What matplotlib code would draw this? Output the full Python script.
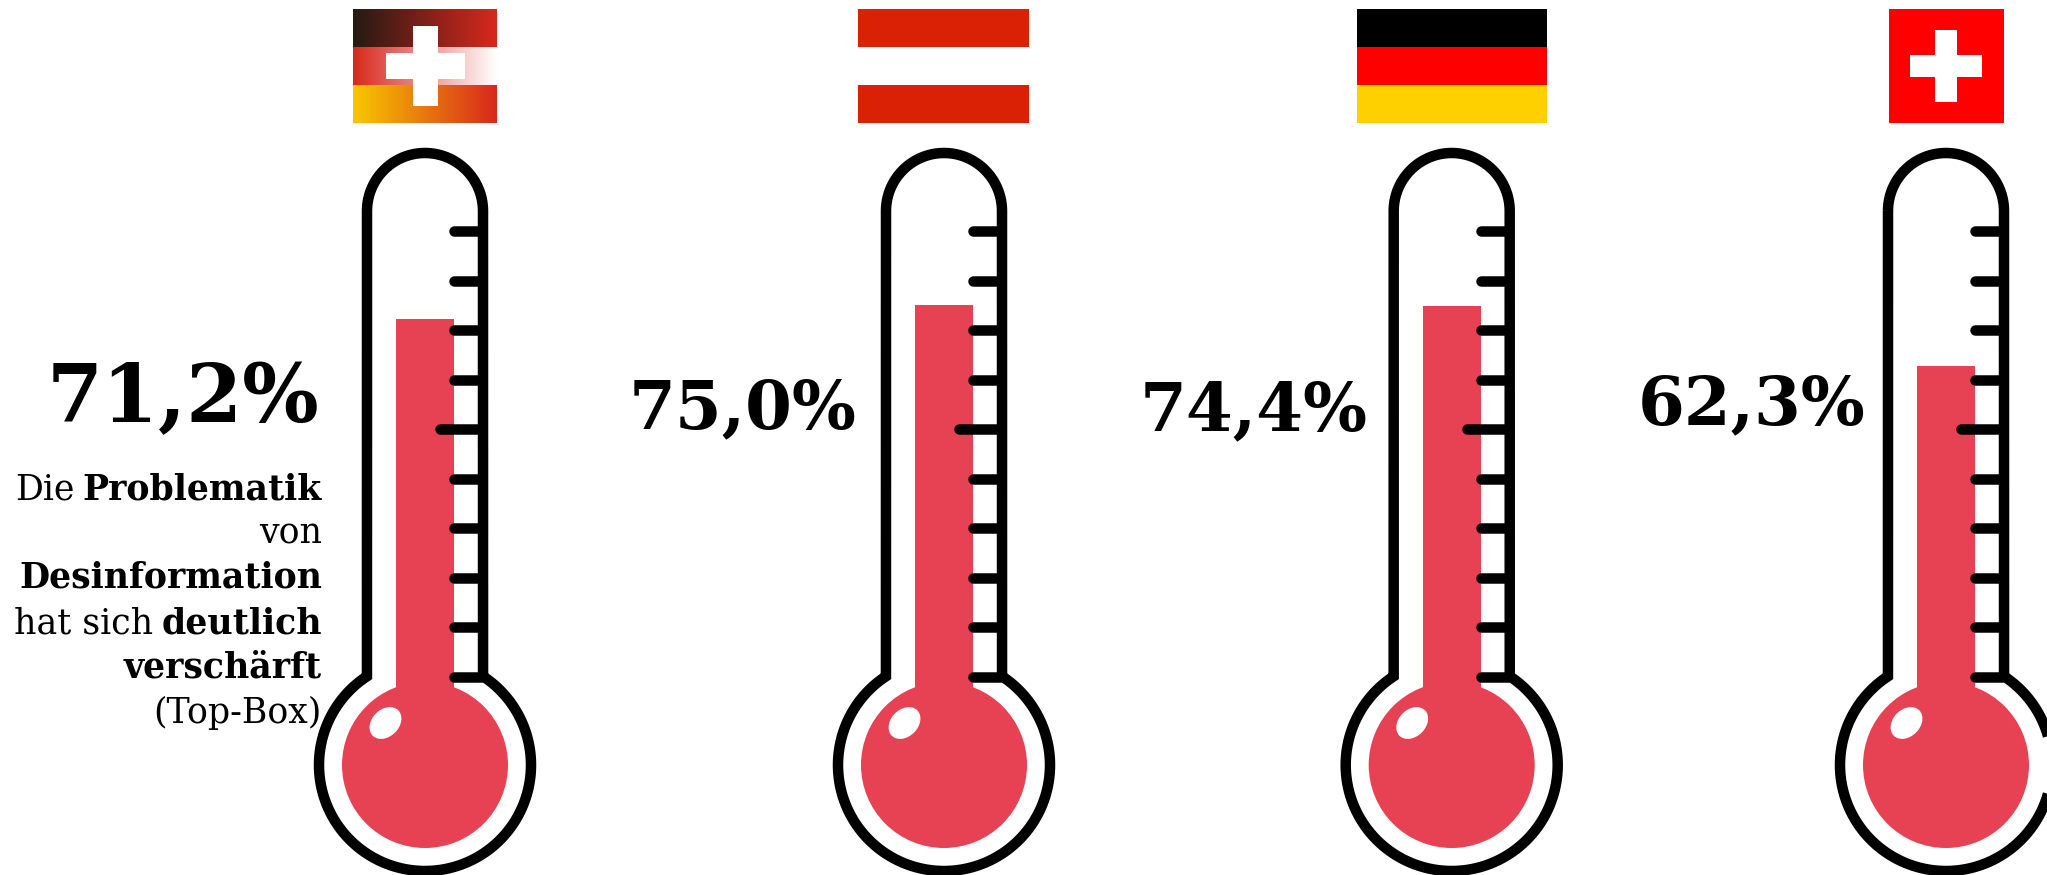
import matplotlib
matplotlib.use("Agg")
import matplotlib.pyplot as plt
from matplotlib.patches import Ellipse, Circle, Rectangle, Polygon
import numpy as np

W, H = 2047, 875

# Werte aus dem Bild
values = [71.2, 75.0, 74.4, 62.3]
# Fuellstand auf der Skala des Thermometers (ein Strich = 10)
fill_levels = [72.2, 75.1, 74.9, 62.8]
label_sizes = [58, 48.5, 48.5, 48.5]
label_right = [319, 857, 1368, 1866]
label_base = [422, 428, 430, 424]

centres = [425, 944, 1451.7, 1946]
scale_ticks = [0, 10, 20, 30, 40, 50, 60, 70, 80, 90]

text_lines = [
    [("Die", False), ("Problematik", True)],
    [("von", False)],
    [("Desinformation", True)],
    [("hat sich", False), ("deutlich", True)],
    [("verschärft", True)],
    [("(Top-Box)", False)],
]
text_base = [499, 544, 588, 633, 678, 723]

RED = "#E64254"
FONT = "DejaVu Serif"
LW = 10.5 * 72 / 100

# Skala: 0 liegt beim untersten Strich, 90 beim obersten
Y0 = 677
STEP = 4.956


def level_to_y(level):
    return Y0 - level * STEP


def gradient(c0, c1):
    ramp = np.linspace(0, 1, 256).reshape(1, -1, 1)
    c0 = np.array(matplotlib.colors.to_rgb(c0))
    c1 = np.array(matplotlib.colors.to_rgb(c1))
    return c0 + ramp * (c1 - c0)


def rect(x0, x1, y0, y1, color):
    ax.add_patch(Rectangle((x0, y0), x1 - x0, y1 - y0, facecolor=color, edgecolor="none", zorder=2))


def draw_thermometer(cx):
    ax.add_patch(Circle((cx, 765), 83, color=RED, linewidth=0))
    ax.add_patch(Ellipse((cx - 39.5, 723), 36, 27, angle=-45, color="white", linewidth=0))

    # Umriss: oberer Bogen, rechte Seite, Kugel unten herum, linke Seite
    top = np.linspace(np.pi, 2 * np.pi, 80)
    start = np.arcsin(88.7 / 106)
    ang = np.linspace(-start, np.pi + start, 200)
    xs = np.concatenate([cx + 58 * np.cos(top), cx + 106 * np.cos(ang)])
    ys = np.concatenate([211 + 58 * np.sin(top), 765 + 106 * np.sin(ang)])
    ax.add_patch(Polygon(np.column_stack([xs, ys]), closed=True, fill=False, edgecolor="black",
                         linewidth=LW, joinstyle="miter"))

    # runde Kappe rechts bleibt innerhalb der Roehre
    for t in scale_ticks:
        y = level_to_y(t)
        x0 = cx + (15 if t == 50 else 29)
        ax.plot([x0, cx + 56], [y, y], color="black", lw=LW, solid_capstyle="round")


fig = plt.figure(figsize=(W / 100, H / 100), dpi=100, facecolor="white")

# untere Achse fuer die roten Saeulen
ax_fill = fig.add_axes([0, 0, 1, 1], zorder=1)
ax_fill.set_xlim(0, W)
ax_fill.set_ylim((Y0 - H) / STEP, Y0 / STEP)
ax_fill.axis("off")
ax_fill.bar(centres, np.array(fill_levels) + 5, width=58, bottom=-5, color=RED, linewidth=0)

ax = fig.add_axes([0, 0, 1, 1], zorder=2)
ax.axis("off")
ax.patch.set_alpha(0)

for cx in centres:
    draw_thermometer(cx)

# Flaggen
ax.imshow(gradient("#241A14", "#D8281D"), extent=(353, 497, 47, 9), aspect="auto", zorder=1)
ax.imshow(gradient("#D8281D", "#FFFFFF"), extent=(353, 497, 85, 47), aspect="auto", zorder=1)
ax.imshow(gradient("#F8C800", "#D8281D"), extent=(353, 497, 123, 85), aspect="auto", zorder=1)
ax.set_xlim(0, W)
ax.set_ylim(H, 0)

rect(413, 438, 26, 106, "white")
rect(386, 465, 53, 79, "white")

rect(858, 1029, 9, 47, "#DA2106")
rect(858, 1029, 85, 123, "#DA2106")

rect(1357, 1547, 9, 47, "black")
rect(1357, 1547, 47, 85, "#FF0000")
rect(1357, 1547, 85, 123, "#FFD000")

rect(1889, 2004, 9, 123, "#FF0000")
rect(1935, 1957, 30, 102, "white")
rect(1910, 1982, 55, 77, "white")

# Prozentwerte
for v, size, r, b in zip(values, label_sizes, label_right, label_base):
    label = f"{v:.1f}%".replace(".", ",")
    ax.text(r, b, label, ha="right", va="baseline", fontsize=size, fontweight="bold",
            family=FONT, color="black", zorder=5)

# Beschreibung, Zeile fuer Zeile rechtsbuendig
fig.canvas.draw()
renderer = fig.canvas.get_renderer()
TEXT_SIZE = 25
for runs, base in zip(text_lines, text_base):
    x = 322
    for part, bold in reversed(runs):
        t = ax.text(x, base, part, ha="right", va="baseline", fontsize=TEXT_SIZE,
                    fontweight="bold" if bold else "normal", family=FONT, color="black", zorder=5)
        x -= t.get_window_extent(renderer).width + 8

fig.savefig("out.png", dpi=100, facecolor="white")
